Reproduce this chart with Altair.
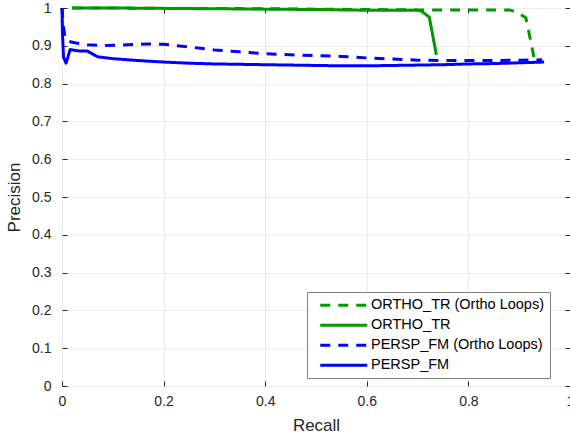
import altair as alt
import pandas as pd

series_names = ["ORTHO_TR (Ortho Loops)", "ORTHO_TR", "PERSP_FM (Ortho Loops)", "PERSP_FM"]
series_colors = ["#009900", "#009900", "#0000ff", "#0000ff"]
series_dashes = [[10, 8], [1, 0], [10, 8], [1, 0]]

ortho_loops_recall = [0.02, 0.1, 0.2, 0.3, 0.4, 0.5, 0.6, 0.7, 0.8, 0.88, 0.895, 0.913, 0.92, 0.929]
ortho_loops_prec = [1.0, 1.0, 0.999, 0.999, 0.998, 0.997, 0.996, 0.995, 0.995, 0.995, 0.99, 0.974, 0.93, 0.87]

ortho_recall = [0.02, 0.1, 0.2, 0.3, 0.4, 0.5, 0.6, 0.7, 0.706, 0.723, 0.737]
ortho_prec = [1.0, 1.0, 0.999, 0.998, 0.997, 0.996, 0.994, 0.994, 0.993, 0.976, 0.876]

persp_loops_recall = [0.0, 0.003, 0.006, 0.012, 0.025, 0.05, 0.08, 0.12, 0.17, 0.2, 0.25, 0.3, 0.35,
                      0.4, 0.45, 0.5, 0.55, 0.6, 0.65, 0.7, 0.75, 0.8, 0.85, 0.9, 0.945]
persp_loops_prec = [1.0, 0.95, 0.92, 0.912, 0.908, 0.903, 0.901, 0.902, 0.905, 0.904, 0.897, 0.889, 0.884,
                    0.879, 0.876, 0.874, 0.872, 0.868, 0.865, 0.862, 0.861, 0.861, 0.861, 0.862, 0.863]

persp_recall = [0.0, 0.001, 0.003, 0.008, 0.016, 0.035, 0.05, 0.07, 0.1, 0.15, 0.2, 0.25, 0.3, 0.35,
                0.4, 0.45, 0.5, 0.55, 0.6, 0.65, 0.7, 0.75, 0.8, 0.85, 0.9, 0.949]
persp_prec = [1.0, 0.93, 0.87, 0.854, 0.89, 0.886, 0.886, 0.871, 0.866, 0.861, 0.857, 0.854, 0.852, 0.851,
              0.85, 0.849, 0.848, 0.847, 0.847, 0.848, 0.849, 0.85, 0.852, 0.853, 0.855, 0.857]

x_ticks = [0, 0.2, 0.4, 0.6, 0.8, 1]
y_ticks = [0, 0.1, 0.2, 0.3, 0.4, 0.5, 0.6, 0.7, 0.8, 0.9, 1]

rows = []
for name, rs, ps in zip(series_names,
                        [ortho_loops_recall, ortho_recall, persp_loops_recall, persp_recall],
                        [ortho_loops_prec, ortho_prec, persp_loops_prec, persp_prec]):
    for i, (r, p) in enumerate(zip(rs, ps)):
        rows.append({"series": name, "recall": r, "precision": p, "idx": i})
df = pd.DataFrame(rows)

FONT = "Liberation Sans"
TXT = "#262626"
W, H = 508, 378
TICK = 5

xscale = alt.Scale(domain=[0, 1], nice=False)
yscale = alt.Scale(domain=[0, 1], nice=False)

lines = alt.Chart(df).mark_line(strokeWidth=3, strokeCap="butt", strokeJoin="round").encode(
    x=alt.X("recall:Q", title="Recall", scale=xscale,
            axis=alt.Axis(orient="bottom", values=x_ticks, format="~g", offset=-TICK,
                          ticks=True, tickSize=TICK, labelPadding=8, titlePadding=9,
                          labelFlush=False, labelOverlap=False)),
    y=alt.Y("precision:Q", title="Precision", scale=yscale,
            axis=alt.Axis(orient="left", values=y_ticks, format="~g", offset=-TICK,
                          ticks=True, tickSize=TICK, labelPadding=11, titlePadding=8,
                          labelFlush=False, labelOverlap=False)),
    color=alt.Color("series:N", scale=alt.Scale(domain=series_names, range=series_colors),
                    legend=alt.Legend(title=None, orient="none", legendX=245, legendY=284,
                                      direction="vertical", symbolType="M-4.7,0H4.7",
                                      symbolSize=100, symbolStrokeWidth=3, symbolOffset=23.5,
                                      labelFont=FONT, labelFontSize=14.5, labelColor="#000000",
                                      labelOffset=20, rowPadding=5,
                                      labelExpr="datum.label + '    '",
                                      strokeColor="#7f7f7f", fillColor="#ffffff",
                                      padding=6, labelLimit=400)),
    strokeDash=alt.StrokeDash("series:N", scale=alt.Scale(domain=series_names, range=series_dashes),
                              legend=None),
    order=alt.Order("idx:Q"),
)

# inward tick marks on the top and right edges of the box (MATLAB style)
tick_layer = alt.Chart(df).mark_point(opacity=0).encode(
    x=alt.X("recall:Q", scale=xscale,
            axis=alt.Axis(orient="top", values=x_ticks, labels=False, domain=False, title=None,
                          grid=False, ticks=True, tickSize=TICK, offset=-TICK)),
    y=alt.Y("precision:Q", scale=yscale,
            axis=alt.Axis(orient="right", values=y_ticks, labels=False, domain=False, title=None,
                          grid=False, ticks=True, tickSize=TICK, offset=-TICK)),
)

chart = alt.layer(lines, tick_layer).resolve_axis(x="independent", y="independent").properties(
    width=W, height=H,
    autosize=alt.AutoSizeParams(type="none"),
    padding={"left": 62, "top": 8, "right": 0, "bottom": 52},
    background="white",
).configure_view(
    stroke="#4d4d4d", strokeWidth=1
).configure_axis(
    labelFont=FONT, titleFont=FONT, labelFontSize=14, titleFontSize=17,
    labelColor=TXT, titleColor=TXT, titleFontWeight="normal",
    domain=False, tickColor=TXT, tickWidth=1,
    gridColor="#ebebeb", gridWidth=1,
)

chart.save("out.html", embed_options={"renderer": "svg", "actions": False})
